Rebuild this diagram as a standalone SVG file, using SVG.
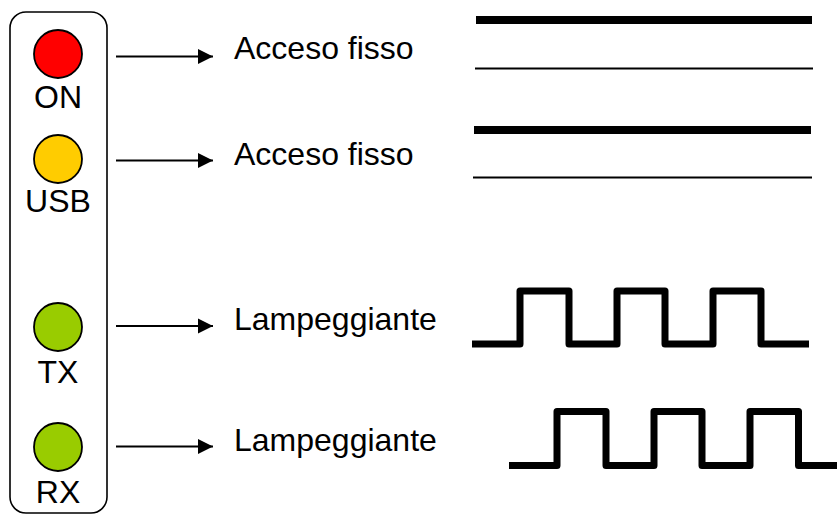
<svg xmlns="http://www.w3.org/2000/svg" width="837" height="515" viewBox="0 0 837 515">
<style>
text{font-family:"Liberation Sans",Arial,sans-serif;font-size:32px;fill:#000}
.led{stroke:#000;stroke-width:1.8}
.lab{text-anchor:middle}
.arr{stroke:#000;stroke-width:2;fill:none}
.wave{stroke:#000;stroke-width:7;fill:none;stroke-linejoin:round;stroke-linecap:butt}
</style>
<defs>
<marker id="ah" markerWidth="16" markerHeight="16" viewBox="0 0 16 16" refX="15" refY="8" orient="auto" markerUnits="userSpaceOnUse">
<path d="M0,0.5 L15,8 L0,15.5 Z" fill="#000"/>
</marker>
</defs>
<rect id="panel" x="10" y="12" width="97" height="501" rx="16" ry="16" fill="#fff" stroke="#000" stroke-width="1.6"/>
<g id="led-on"><circle class="led" cx="58" cy="54" r="24" fill="#ff0000"/><text class="lab" x="58" y="108">ON</text></g>
<g id="led-usb"><circle class="led" cx="58" cy="159" r="24" fill="#ffcc00"/><text class="lab" x="58" y="212">USB</text></g>
<g id="led-tx"><circle class="led" cx="58" cy="327" r="24" fill="#99cc00"/><text class="lab" x="58" y="383">TX</text></g>
<g id="led-rx"><circle class="led" cx="58" cy="447" r="24" fill="#99cc00"/><text class="lab" x="58" y="503">RX</text></g>
<g id="connectors">
<line class="arr" x1="116" y1="56.5" x2="213" y2="56.5" marker-end="url(#ah)"/>
<line class="arr" x1="116" y1="160.5" x2="213" y2="160.5" marker-end="url(#ah)"/>
<line class="arr" x1="116" y1="326" x2="213" y2="326" marker-end="url(#ah)"/>
<line class="arr" x1="116" y1="446.5" x2="213" y2="446.5" marker-end="url(#ah)"/>
</g>
<g id="label-on"><text x="234" y="59">Acceso fisso</text></g>
<g id="label-usb"><text x="234" y="165">Acceso fisso</text></g>
<g id="label-tx"><text x="234" y="330">Lampeggiante</text></g>
<g id="label-rx"><text x="234" y="451">Lampeggiante</text></g>
<g id="signal-on">
<line x1="476" y1="20" x2="812" y2="20" stroke="#000" stroke-width="8"/>
<line x1="475" y1="68.5" x2="813" y2="68.5" stroke="#000" stroke-width="2"/>
</g>
<g id="signal-usb">
<line x1="474" y1="130" x2="811" y2="130" stroke="#000" stroke-width="8"/>
<line x1="473" y1="177.5" x2="812" y2="177.5" stroke="#000" stroke-width="2"/>
</g>
<g id="signal-tx">
<path class="wave" d="M472,344 H520 V291 H569 V344 H617 V291 H665 V344 H713 V291 H761 V344 H809"/>
</g>
<g id="signal-rx">
<path class="wave" d="M509,465.5 H557 V411.5 H606 V465.5 H654 V411.5 H702 V465.5 H750 V411.5 H798.5 V465.5 H845"/>
</g>
</svg>
